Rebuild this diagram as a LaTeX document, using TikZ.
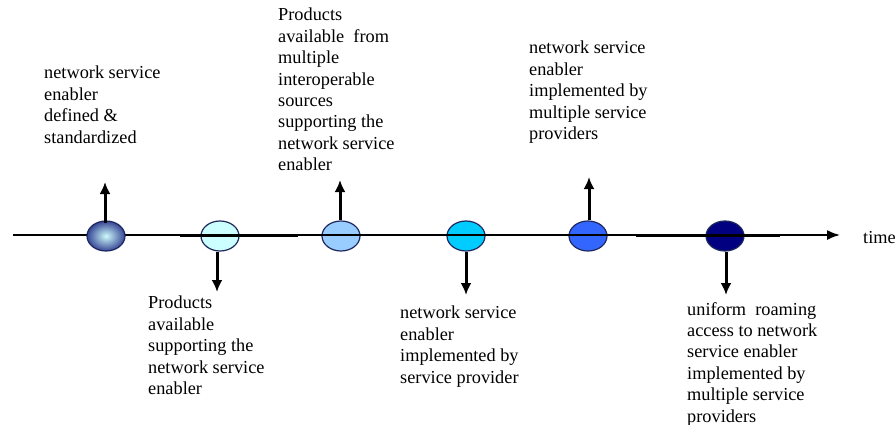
\documentclass[tikz,border=0pt]{standalone}
\usepackage{fontspec}
\setmainfont{Liberation Serif}
\usetikzlibrary{shapes.geometric,arrows.meta}
\definecolor{rim}{RGB}{30,40,95}
\definecolor{glowin}{RGB}{205,250,250}
\definecolor{glowout}{RGB}{55,70,150}
\definecolor{stageb}{RGB}{204,255,255}
\definecolor{stagec}{RGB}{153,204,255}
\definecolor{staged}{RGB}{0,204,255}
\definecolor{stagee}{RGB}{51,102,255}
\definecolor{stagef}{RGB}{0,0,128}
\begin{document}
\begin{tikzpicture}[x=1pt,y=-1pt,
	stage/.style={ellipse,draw=rim,line width=1.2pt,minimum width=38pt,minimum height=30pt,inner sep=0pt},
	note/.style={anchor=north west,inner sep=0pt,align=left,font=\rmfamily\fontsize{18.3}{21.4}\selectfont},
	event/.style={-{Latex[length=12pt,width=11pt]},line width=3pt}]
		\useasboundingbox (0,0) rectangle (896,425);
		\node[stage,fill=stageb] (e2) at (220,236) {};
		\node[stage,fill=stagec] (e3) at (341,236) {};
		\node[stage,fill=staged] (e4) at (466,236) {};
		\node[stage,fill=stagee] (e5) at (588,236) {};
		\node[stage,fill=stagef] (e6) at (725,236) {};
		\coordinate (start) at (13,235);
		\coordinate (end) at (840,235);
		\coordinate (ova) at (180,236);
		\coordinate (ovb) at (298,236);
		\coordinate (ovc) at (636,236);
		\coordinate (ovd) at (780,236);
		\draw[-{Latex[length=13pt,width=10pt]},line width=1.8pt] (start) -- (end);
		\draw[line width=2.5pt] (ova) -- (ovb);
		\draw[line width=2.5pt] (ovc) -- (ovd);
		\node[stage,shading=radial,inner color=glowin,outer color=glowout] (e1) at (106,236) {};
		\coordinate (u1) at (105,182);
		\coordinate (d2) at (217,292);
		\coordinate (u3) at (340,180);
		\coordinate (d4) at (466,295);
		\coordinate (u5) at (589,177);
		\coordinate (d6) at (726,295);
		\draw[event] ([yshift=-3pt]e1.north -| u1) -- (u1);
		\draw[event] (e2.south -| d2) -- (d2);
		\draw[event] (e3.north -| u3) -- (u3);
		\draw[event] (e4.south -| d4) -- (d4);
		\draw[event] (e5.north -| u5) -- (u5);
		\draw[event] (e6.south -| d6) -- (d6);
		\node[note] (t1) at (44,66) {network service\\enabler\\defined \&\\standardized};
		\node[note] (t2) at (148,296) {Products\\available\\supporting the\\network service\\enabler};
		\node[note] (t3) at (278,8) {Products\\available \ from\\multiple\\interoperable\\sources\\supporting the\\network service\\enabler};
		\node[note] (t4) at (400,306) {network service\\enabler\\implemented by\\service provider};
		\node[note] (t5) at (529,41) {network service\\enabler\\implemented by\\multiple service\\providers};
		\node[note] (t6) at (687,302) {uniform \ roaming\\access to network\\service enabler\\implemented by\\multiple service\\providers};
		\node[anchor=base west,inner sep=0pt,font=\rmfamily\fontsize{18.3}{21.4}\selectfont] (time) at (863,243) {time};
\end{tikzpicture}
\end{document}
